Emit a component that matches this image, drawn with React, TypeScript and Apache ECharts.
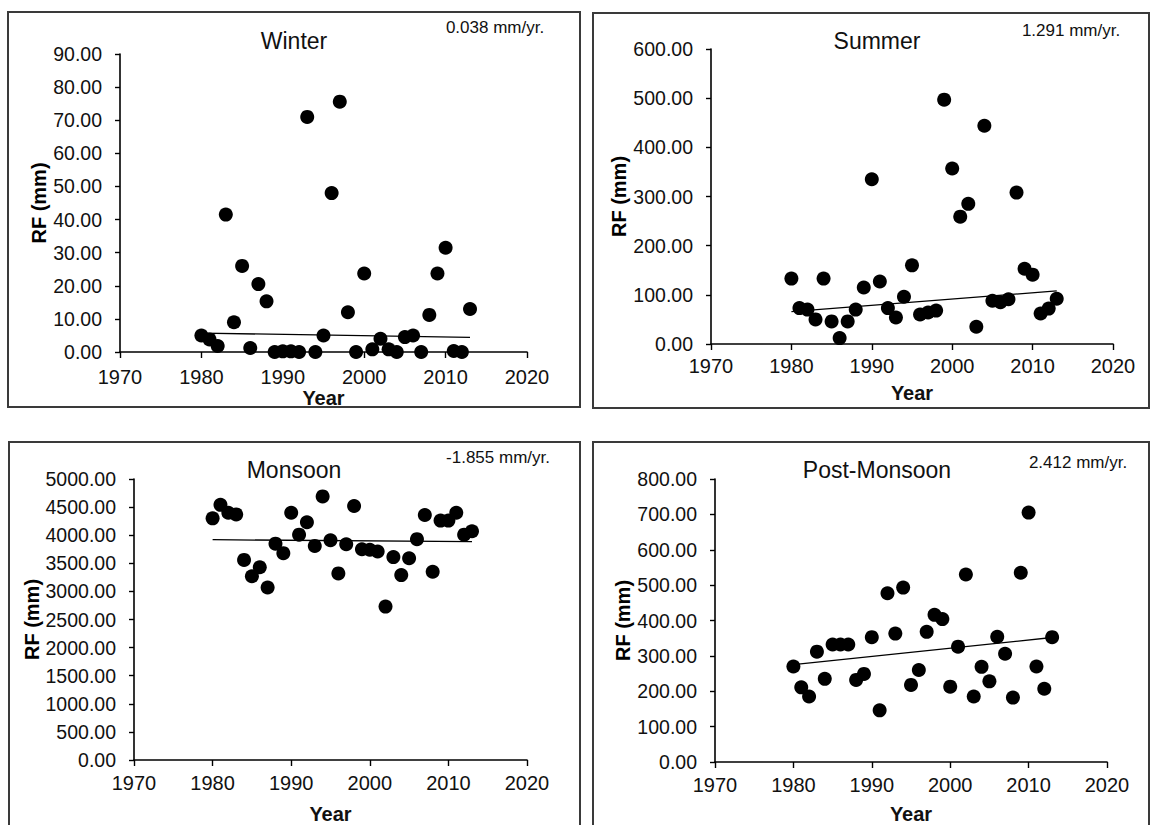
import React, { useEffect, useRef } from "react";
import * as echarts from "echarts";

// ---- data ----
const years = [
  1980, 1981, 1982, 1983, 1984, 1985, 1986, 1987, 1988, 1989,
  1990, 1991, 1992, 1993, 1994, 1995, 1996, 1997, 1998, 1999,
  2000, 2001, 2002, 2003, 2004, 2005, 2006, 2007, 2008, 2009,
  2010, 2011, 2012, 2013,
];

const winterRF = [
  5.0, 3.8, 1.8, 41.5, 9.0, 26.0, 1.2, 20.5, 15.3, 0.0,
  0.2, 0.2, 0.0, 71.0, 0.0, 5.0, 48.0, 75.6, 12.0, 0.0,
  23.7, 0.8, 4.0, 0.8, 0.0, 4.5, 5.0, 0.0, 11.2, 23.7,
  31.5, 0.3, 0.0, 13.0,
];

const summerRF = [
  133, 73, 70, 50, 133, 46, 12, 46, 70, 115,
  335, 127, 73, 54, 96, 160, 60, 64, 68, 497,
  357, 259, 285, 35, 444, 88, 85, 91, 308, 153,
  141, 62, 72, 92,
];

const monsoonRF = [
  4300, 4540, 4400, 4370, 3560, 3270, 3430, 3070, 3850, 3680,
  4400, 4010, 4230, 3810, 4690, 3910, 3320, 3840, 4520, 3750,
  3740, 3710, 2730, 3610, 3290, 3590, 3930, 4360, 3350, 4260,
  4260, 4400, 4010, 4070,
];

const postMonsoonRF = [
  270, 211, 185, 312, 235, 332, 332, 332, 232, 249,
  353, 146, 477, 363, 493, 218, 260, 368, 416, 404,
  213, 326, 530, 185, 269, 228, 354, 306, 182, 535,
  705, 270, 207, 353,
];

const trendYears = [1980, 2013];
const winterTrend = [5.7, 4.4];
const summerTrend = [66, 108];
const monsoonTrend = [3920, 3885];
const postMonsoonTrend = [275, 352];

const titles = ["Winter", "Summer", "Monsoon", "Post-Monsoon"];
const slopeLabels = ["0.038 mm/yr.", "1.291 mm/yr.", "-1.855 mm/yr.", "2.412 mm/yr."];
const xMin = 1970;
const xMax = 2020;
const xStep = 10;
const yMaxes = [90, 600, 5000, 800];
const ySteps = [10, 100, 500, 100];
const xAxisName = "Year";
const yAxisName = "RF (mm)";

const seriesValues = [winterRF, summerRF, monsoonRF, postMonsoonRF];
const trendValues = [winterTrend, summerTrend, monsoonTrend, postMonsoonTrend];

// ---- layout (pixels) ----
const layout = [
  {
    grid: { left: 120, top: 54, width: 407, height: 298 },
    frame: { x: 8, y: 12, width: 572, height: 395 },
    title: [294, 41], slope: [495, 27],
    xLabelMargin: 15, xNameGap: 28, yNameGap: 69,
  },
  {
    grid: { left: 711, top: 49, width: 402, height: 295 },
    frame: { x: 593, y: 13, width: 556, height: 395 },
    title: [877, 41], slope: [1071, 30],
    xLabelMargin: 12, xNameGap: 39, yNameGap: 75,
  },
  {
    grid: { left: 134, top: 479, width: 393, height: 285 },
    frame: { x: 9, y: 442, width: 571, height: 420 },
    title: [294, 470], slope: [498, 457],
    xLabelMargin: 13, xNameGap: 44, yNameGap: 87,
  },
  {
    grid: { left: 715, top: 479, width: 392, height: 287 },
    frame: { x: 593, y: 442, width: 556, height: 420 },
    title: [877, 470], slope: [1078, 462],
    xLabelMargin: 13, xNameGap: 42, yNameGap: 79,
  },
];

const FONT = "'Liberation Sans', Arial, sans-serif";
const TEXT = "#111";

function buildOption() {
  const axisLine = { show: true, lineStyle: { color: "#000", width: 1.6 } };
  const grid = layout.map((l) => ({ ...l.grid, containLabel: false }));
  const xAxis = layout.map((l, i) => ({
    type: "value",
    gridIndex: i,
    min: xMin,
    max: xMax,
    interval: xStep,
    axisLine,
    axisTick: { show: true, inside: false, length: 6, lineStyle: { color: "#000", width: 1.4 } },
    axisLabel: {
      fontSize: 20,
      color: TEXT,
      margin: l.xLabelMargin,
      fontFamily: FONT,
      showMinLabel: true,
      showMaxLabel: true,
      formatter: (v: number) => String(v),
    },
    splitLine: { show: false },
    name: xAxisName,
    nameLocation: "middle",
    nameGap: l.xNameGap,
    nameTextStyle: { fontSize: 20, fontWeight: "bold", color: TEXT, fontFamily: FONT },
  }));
  const yAxis = layout.map((l, i) => ({
    type: "value",
    gridIndex: i,
    min: 0,
    max: yMaxes[i],
    interval: ySteps[i],
    axisLine,
    axisTick: { show: true, inside: false, length: 5, lineStyle: { color: "#000", width: 1.4 } },
    axisLabel: {
      fontSize: 19.5,
      color: TEXT,
      margin: 18,
      fontFamily: FONT,
      formatter: (v: number) => v.toFixed(2),
    },
    splitLine: { show: false },
    name: yAxisName,
    nameLocation: "middle",
    nameGap: l.yNameGap,
    nameTextStyle: { fontSize: 20, fontWeight: "bold", color: "#000", fontFamily: FONT },
  }));

  const series: any[] = [];
  seriesValues.forEach((vals, i) => {
    series.push({
      type: "scatter",
      name: titles[i],
      xAxisIndex: i,
      yAxisIndex: i,
      symbol: "circle",
      symbolSize: 14,
      itemStyle: { color: "#000", opacity: 1 },
      data: years.map((y, k) => [y, vals[k]]),
      z: 3,
    });
    series.push({
      type: "line",
      name: titles[i] + " trend",
      xAxisIndex: i,
      yAxisIndex: i,
      symbol: "none",
      lineStyle: { color: "#000", width: 1.3 },
      data: trendYears.map((y, k) => [y, trendValues[i][k]]),
      z: 4,
    });
  });

  const graphic: any[] = [];
  layout.forEach((l, i) => {
    graphic.push({
      type: "rect",
      shape: { ...l.frame },
      style: { fill: "none", stroke: "#3a3a3a", lineWidth: 2 },
      silent: true,
      z: -1,
    });
    graphic.push({
      type: "text",
      x: l.title[0],
      y: l.title[1],
      style: {
        text: titles[i],
        fontSize: 23,
        fontFamily: FONT,
        fill: TEXT,
        align: "center",
        verticalAlign: "middle",
      },
    });
    graphic.push({
      type: "text",
      x: l.slope[0],
      y: l.slope[1],
      style: {
        text: slopeLabels[i],
        fontSize: 17,
        fontFamily: FONT,
        fill: TEXT,
        align: "center",
        verticalAlign: "middle",
      },
    });
  });

  return {
    animation: false,
    backgroundColor: "#fff",
    textStyle: { fontFamily: FONT },
    grid,
    xAxis,
    yAxis,
    series,
    graphic,
  };
}

export default function App() {
  const ref = useRef<HTMLDivElement>(null);
  useEffect(() => {
    if (!ref.current) return;
    const chart = echarts.init(ref.current, undefined, { renderer: "svg" });
    chart.setOption(buildOption() as any);
    return () => chart.dispose();
  }, []);
  return (
    <div
      ref={ref}
      style={{ position: "fixed", left: 0, top: 0, width: 1151, height: 825, background: "#fff" }}
    />
  );
}
